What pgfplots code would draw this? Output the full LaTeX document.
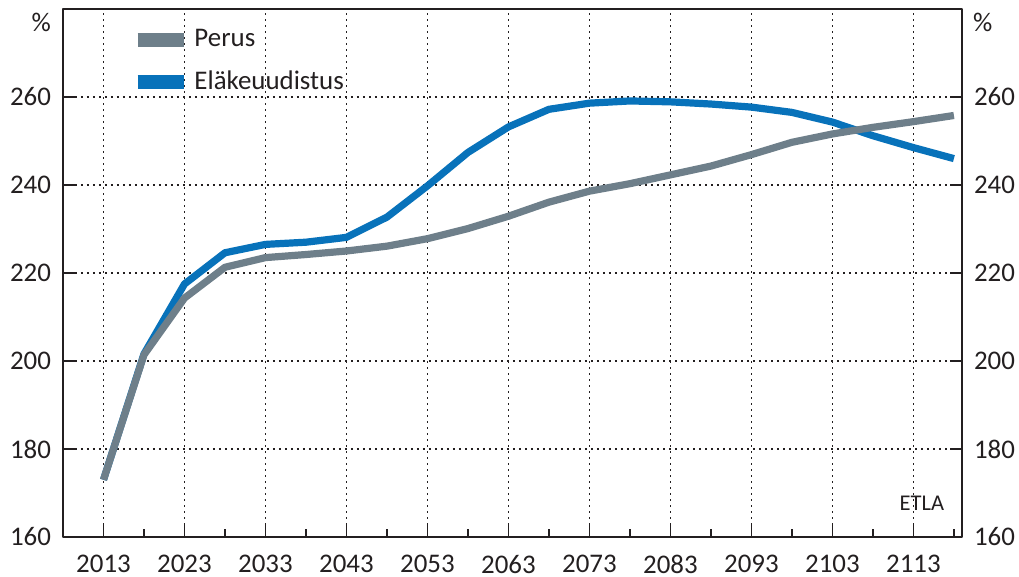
\documentclass[border=0pt]{standalone}
\usepackage{fontspec}
\setmainfont{Carlito}
\usepackage{pgfplots}
\pgfplotsset{compat=1.18}
\definecolor{perus}{RGB}{110,127,138}
\definecolor{uud}{RGB}{8,114,186}
\definecolor{ax}{RGB}{35,31,32}
\begin{document}
\begin{tikzpicture}
\useasboundingbox (-31.5bp,-20bp) rectangle (478bp,268.5bp);
\pgfplotsset{
  common/.style={
    at={(0bp,0bp)}, anchor=south west,
    scale only axis, width=449.5bp, height=264bp,
    xmin=2008, xmax=2119, ymin=160, ymax=280,
    ytick={160,180,...,260},
    tick align=inside,
    major tick length=6bp, minor tick length=4bp,
    axis line style={line width=0.8bp, ax},
    tick style={line width=0.8bp, ax},
    ticklabel style={font=\fontsize{13.5}{15}\selectfont, text=ax},
    /pgf/number format/assume math mode=true,
    /pgf/number format/1000 sep={},
  }
}
\begin{axis}[
  common, name=main,
  xtick={2013,2023,...,2113}, minor xtick={2018,2028,...,2118},
  xtick pos=bottom, ytick pos=left,
  xmajorgrids, ymajorgrids,
  grid style={ax, line width=0.6bp, dash pattern=on 0.8bp off 2.2bp},
  xticklabel style={inner sep=0pt, yshift=-8.8bp},
  yticklabel style={xshift=-2.5bp},
  legend style={draw=none, fill=none, at={(rel axis cs:0.068,0.977)}, anchor=north west,
    font=\fontsize{13.5}{15}\selectfont, text=ax, row sep=6.5bp,
    /tikz/every even column/.append style={column sep=4bp}},
  legend cell align=left,
  reverse legend,
  legend image code/.code={\draw[#1,line width=7bp,line cap=butt] (0bp,0bp) -- (23bp,0bp);},
  line join=round,
]
\addplot[uud, line width=3.6bp, no marks] coordinates {
(2013,173) (2018,201.6) (2023,217.5) (2028,224.6) (2033,226.5) (2038,227.0)
(2043,228.1) (2048,232.7) (2053,239.8) (2058,247.4) (2063,253.2) (2068,257.2)
(2073,258.6) (2078,259.1) (2083,258.9) (2088,258.4) (2093,257.7) (2098,256.5)
(2103,254.3) (2108,251.2) (2113,248.5) (2118,246.0)};
\addlegendentry{Eläkeuudistus}
\addplot[perus, line width=3.6bp, no marks] coordinates {
(2013,173) (2018,201.4) (2023,214.3) (2028,221.3) (2033,223.5) (2038,224.2)
(2043,225.0) (2048,226.1) (2053,227.8) (2058,230.1) (2063,232.9) (2068,236.1)
(2073,238.6) (2078,240.3) (2083,242.3) (2088,244.3) (2093,246.9) (2098,249.7)
(2103,251.6) (2108,253.1) (2113,254.4) (2118,255.8)};
\addlegendentry{Perus}
\node[anchor=east, font=\fontsize{11.3}{12}\selectfont, text=ax] at (rel axis cs:0.988,0.064) {ETLA};
\end{axis}
\begin{axis}[
  common,
  axis x line=none, axis y line*=right,
  yticklabel style={xshift=2.5bp},
]
\end{axis}
\node[anchor=east, font=\fontsize{13.5}{15}\selectfont, text=ax] at ([xshift=-2.5bp,yshift=-6.5bp]main.north west) {\%};
\node[anchor=west, font=\fontsize{13.5}{15}\selectfont, text=ax] at ([xshift=2bp,yshift=-6.5bp]main.north east) {\%};
\end{tikzpicture}
\end{document}
